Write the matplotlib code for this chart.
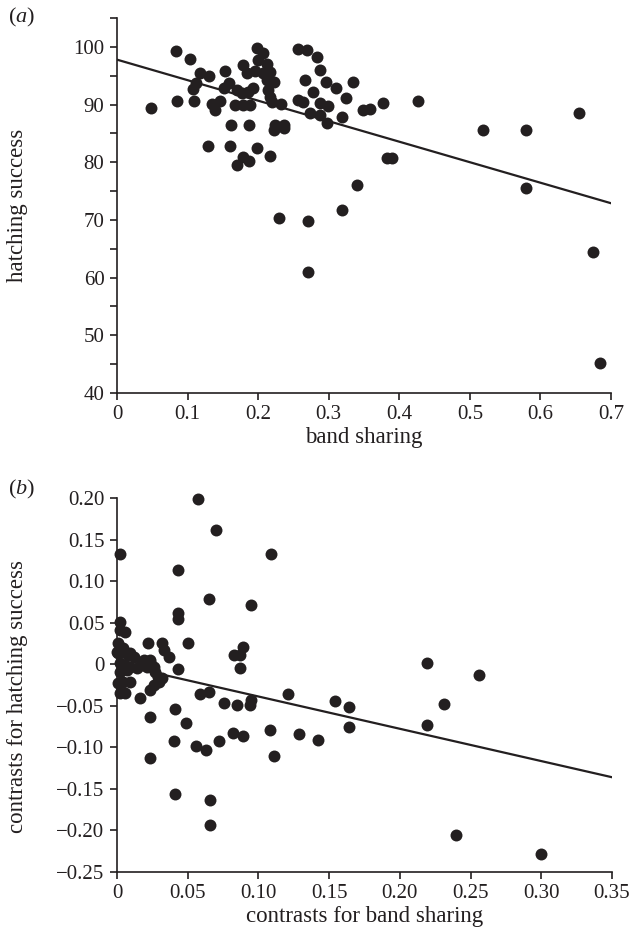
import matplotlib
matplotlib.use("Agg")
import matplotlib.pyplot as plt
from matplotlib.ticker import FixedLocator, FuncFormatter

plt.rcParams["font.family"] = ["Liberation Serif", "DejaVu Serif"]
plt.rcParams["mathtext.fontset"] = "custom"
plt.rcParams["mathtext.it"] = "Liberation Serif:italic"
plt.rcParams["mathtext.rm"] = "Liberation Serif"

INK = "#231f20"

# panel (a): raw band sharing vs hatching success
band_sharing = [
    0.048, 0.084, 0.103, 0.117, 0.130, 0.112, 0.108, 0.085, 0.109, 0.153,
    0.158, 0.151, 0.134, 0.139, 0.146, 0.170, 0.179, 0.184, 0.177, 0.167,
    0.179, 0.188, 0.186, 0.193, 0.196, 0.199, 0.207, 0.200, 0.212, 0.207,
    0.217, 0.222, 0.212, 0.214, 0.217, 0.219, 0.233, 0.224, 0.237, 0.222,
    0.236, 0.161, 0.187, 0.129, 0.160, 0.199, 0.217, 0.178, 0.187, 0.170,
    0.257, 0.269, 0.284, 0.287, 0.266, 0.296, 0.334, 0.278, 0.310, 0.325,
    0.257, 0.264, 0.288, 0.299, 0.273, 0.288, 0.298, 0.319, 0.349, 0.358,
    0.377, 0.427, 0.655, 0.518, 0.579, 0.383, 0.390, 0.579, 0.675, 0.684,
    0.340, 0.319, 0.229, 0.270, 0.270,
]
hatching = [
    89.5, 99.3, 97.9, 95.4, 95.0, 93.7, 92.7, 90.7, 90.7, 95.8,
    93.7, 92.8, 90.1, 89.1, 90.7, 92.5, 96.9, 95.4, 92.0, 90.0,
    90.0, 90.0, 92.2, 92.8, 95.8, 99.8, 98.9, 97.7, 97.1, 95.4,
    95.7, 94.0, 94.3, 92.5, 91.4, 90.5, 90.1, 86.5, 86.5, 85.6,
    85.9, 86.4, 86.4, 82.8, 82.8, 82.4, 81.1, 80.9, 80.3, 79.5,
    99.6, 99.4, 98.2, 96.0, 94.3, 94.0, 94.0, 92.2, 92.8, 91.1,
    90.8, 90.5, 90.2, 89.8, 88.6, 88.2, 86.8, 87.8, 89.1, 89.2,
    90.3, 90.7, 88.5, 85.6, 85.6, 80.8, 80.8, 75.6, 64.5, 45.2,
    76.1, 71.7, 70.3, 69.9, 60.9,
]
fit_a_x = [0.0, 0.7]
fit_a_y = [97.8, 72.9]

# panel (b): independent contrasts
contrast_band = [
    0.002, 0.002, 0.002, 0.006, 0.001, 0.004, 0.009, 0.000, 0.001, 0.004,
    0.008, 0.012, 0.002, 0.006, 0.009, 0.014, 0.017, 0.021, 0.023, 0.026,
    0.027, 0.029, 0.002, 0.007, 0.001, 0.004, 0.009, 0.002, 0.006, 0.019,
    0.023, 0.022, 0.050, 0.089, 0.083, 0.087, 0.087, 0.032, 0.033, 0.037,
    0.043, 0.016, 0.023, 0.026, 0.030, 0.032, 0.059, 0.065, 0.041, 0.023,
    0.049, 0.076, 0.085, 0.094, 0.095, 0.121, 0.154, 0.164, 0.164, 0.108,
    0.129, 0.142, 0.111, 0.082, 0.089, 0.040, 0.056, 0.063, 0.072, 0.023,
    0.041, 0.066, 0.066, 0.070, 0.109, 0.043, 0.065, 0.095, 0.043, 0.043,
    0.057, 0.219, 0.231, 0.256, 0.219, 0.240, 0.300,
]
contrast_hatch = [
    0.133, 0.051, 0.041, 0.039, 0.025, 0.019, 0.013, 0.015, 0.013, 0.015,
    0.011, 0.009, 0.001, -0.001, -0.003, -0.005, -0.001, -0.003, 0.003, -0.003,
    -0.009, -0.015, -0.009, -0.007, -0.023, -0.021, -0.021, -0.035, -0.035, 0.005,
    0.005, 0.026, 0.025, 0.021, 0.011, 0.011, -0.004, 0.025, 0.017, 0.009,
    -0.006, -0.041, -0.031, -0.025, -0.021, -0.017, -0.036, -0.033, -0.054, -0.064,
    -0.071, -0.047, -0.049, -0.049, -0.043, -0.036, -0.044, -0.051, -0.076, -0.079,
    -0.084, -0.091, -0.111, -0.083, -0.087, -0.093, -0.099, -0.103, -0.093, -0.113,
    -0.156, -0.163, -0.193, 0.162, 0.133, 0.113, 0.078, 0.071, 0.062, 0.054,
    0.199, 0.001, -0.048, -0.013, -0.073, -0.206, -0.228,
]
fit_b_x = [0.0, 0.35]
fit_b_y = [0.0, -0.136]

a_xticks = [0, 0.1, 0.2, 0.3, 0.4, 0.5, 0.6, 0.7]
a_yticks = [40, 50, 60, 70, 80, 90, 100]
a_yminor = [45, 55, 65, 75, 85, 95, 105]
b_xticks = [0, 0.05, 0.10, 0.15, 0.20, 0.25, 0.30, 0.35]
b_yticks = [-0.25, -0.20, -0.15, -0.10, -0.05, 0, 0.05, 0.10, 0.15, 0.20]


def fmt2(v, pos=None):
    if abs(v) < 1e-9:
        return "0"
    return f"{v:.2f}".replace("-", "\u2212")


def style(ax):
    for s in ("top", "right"):
        ax.spines[s].set_visible(False)
    for s in ("left", "bottom"):
        ax.spines[s].set_linewidth(1.2)
        ax.spines[s].set_color(INK)
    ax.tick_params(which="both", direction="out", length=5, width=1.2,
                   color=INK, labelsize=15, labelcolor=INK, pad=4)


fig = plt.figure(figsize=(6.4, 9.44), dpi=100)

ax1 = fig.add_axes([0.1828, 0.5837, 0.772, 0.3971])
ax1.plot(band_sharing, hatching, "o", ms=8.6, color=INK, mec="none", clip_on=False)
ax1.plot(fit_a_x, fit_a_y, color=INK, lw=1.6)
ax1.set_xlim(0, 0.7)
ax1.set_ylim(40, 105)
ax1.xaxis.set_major_locator(FixedLocator(a_xticks))
ax1.xaxis.set_major_formatter(FuncFormatter(lambda v, p: "0" if v == 0 else f"{v:.1f}"))
ax1.yaxis.set_major_locator(FixedLocator(a_yticks))
ax1.yaxis.set_minor_locator(FixedLocator(a_yminor))
style(ax1)
ax1.set_xlabel("band sharing", fontsize=16.5, color=INK, labelpad=2)
ax1.set_ylabel("hatching success", fontsize=16.5, color=INK)
ax1.yaxis.set_label_coords(-0.18, 0.5)

ax2 = fig.add_axes([0.1828, 0.0763, 0.7734, 0.3962])
ax2.plot(contrast_band, contrast_hatch, "o", ms=8.6, color=INK, mec="none", clip_on=False)
ax2.plot(fit_b_x, fit_b_y, color=INK, lw=1.6)
ax2.set_xlim(0, 0.35)
ax2.set_ylim(-0.25, 0.20)
ax2.xaxis.set_major_locator(FixedLocator(b_xticks))
ax2.xaxis.set_major_formatter(FuncFormatter(fmt2))
ax2.yaxis.set_major_locator(FixedLocator(b_yticks))
ax2.yaxis.set_major_formatter(FuncFormatter(fmt2))
style(ax2)
ax2.set_xlabel("contrasts for band sharing", fontsize=16.5, color=INK, labelpad=2)
ax2.set_ylabel("contrasts for hatching success", fontsize=16.5, color=INK)
ax2.yaxis.set_label_coords(-0.18, 0.47)

fig.text(0.012, 0.982, r"($\mathit{a}$)", fontsize=16, color=INK, va="center")
fig.text(0.012, 0.482, r"($\mathit{b}$)", fontsize=16, color=INK, va="center")

fig.savefig("out.png", dpi=100)
